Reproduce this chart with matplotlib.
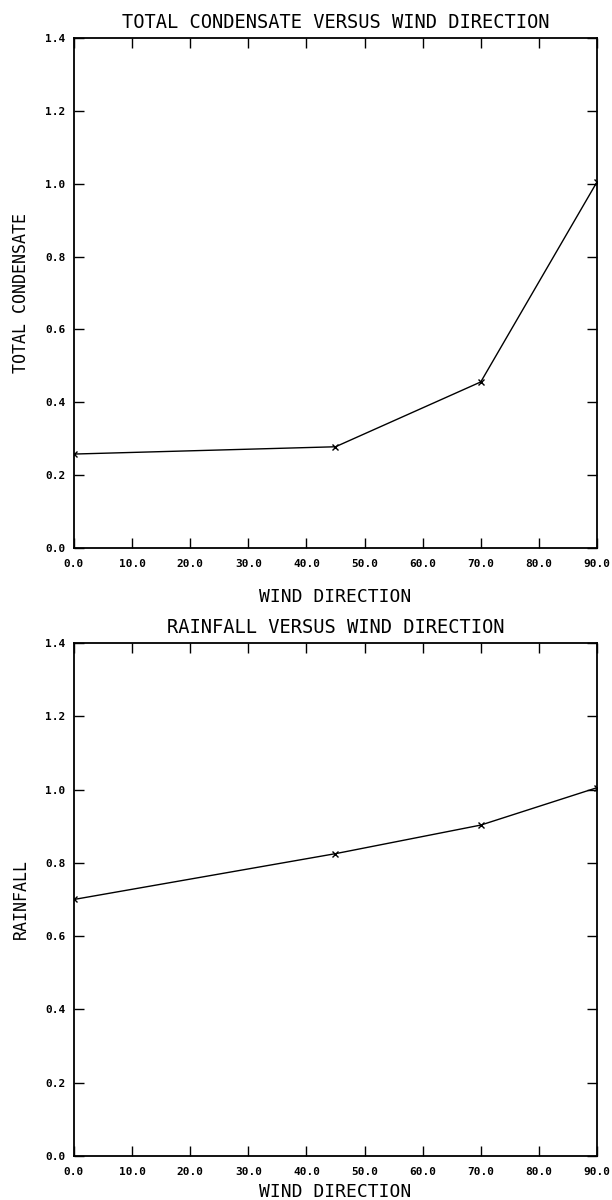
import matplotlib
matplotlib.use("Agg")
import matplotlib.pyplot as plt
import numpy as np

# wind direction (deg)
wind_dir = [0, 45, 70, 90]
# normalised totals
total_condensate = [0.258, 0.278, 0.456, 1.005]
rainfall = [0.70, 0.825, 0.903, 1.005]

x_ticks = [0, 10, 20, 30, 40, 50, 60, 70, 80, 90]
y_ticks = [0.0, 0.2, 0.4, 0.6, 0.8, 1.0, 1.2, 1.4]

titles = ["TOTAL CONDENSATE VERSUS WIND DIRECTION", "RAINFALL VERSUS WIND DIRECTION"]
ylabels = ["TOTAL CONDENSATE", "RAINFALL"]
series = [total_condensate, rainfall]

label_font = "DejaVu Sans Mono"

fig = plt.figure(figsize=(6.12, 12), dpi=100)
axes_boxes = [[0.1209, 0.5433, 0.8546, 0.425], [0.1209, 0.0367, 0.8546, 0.4275]]
xlabel_y = [-0.079, -0.053]

for box, title, ylab, vals, xly in zip(axes_boxes, titles, ylabels, series, xlabel_y):
    ax = fig.add_axes(box)
    ax.plot(wind_dir, vals, color="black", lw=1.0, marker="x", ms=5, mew=1.0)
    ax.set_xlim(0, 90)
    ax.set_ylim(0, 1.4)
    ax.set_xticks(x_ticks)
    ax.set_yticks(y_ticks)
    ax.set_xticklabels(["%.1f" % v for v in x_ticks])
    ax.set_yticklabels(["%.1f" % v for v in y_ticks])
    ax.tick_params(direction="in", length=7, width=1.0, top=True, right=True,
                   labelsize=8)
    ax.tick_params(axis="x", pad=8)
    ax.tick_params(axis="y", pad=6)
    for lab in ax.get_xticklabels() + ax.get_yticklabels():
        lab.set_fontfamily(label_font)
        lab.set_fontweight("bold")
    for sp in ax.spines.values():
        sp.set_linewidth(1.3)

    ax.set_title(title, fontfamily=label_font, fontsize=13.5, pad=7)
    ax.set_xlabel("WIND DIRECTION", fontfamily=label_font, fontsize=13)
    ax.set_ylabel(ylab, fontfamily=label_font, fontsize=12)
    ax.xaxis.set_label_coords(0.5, xly)
    ax.yaxis.set_label_coords(-0.085, 0.5)

fig.savefig("out.png", dpi=100)
